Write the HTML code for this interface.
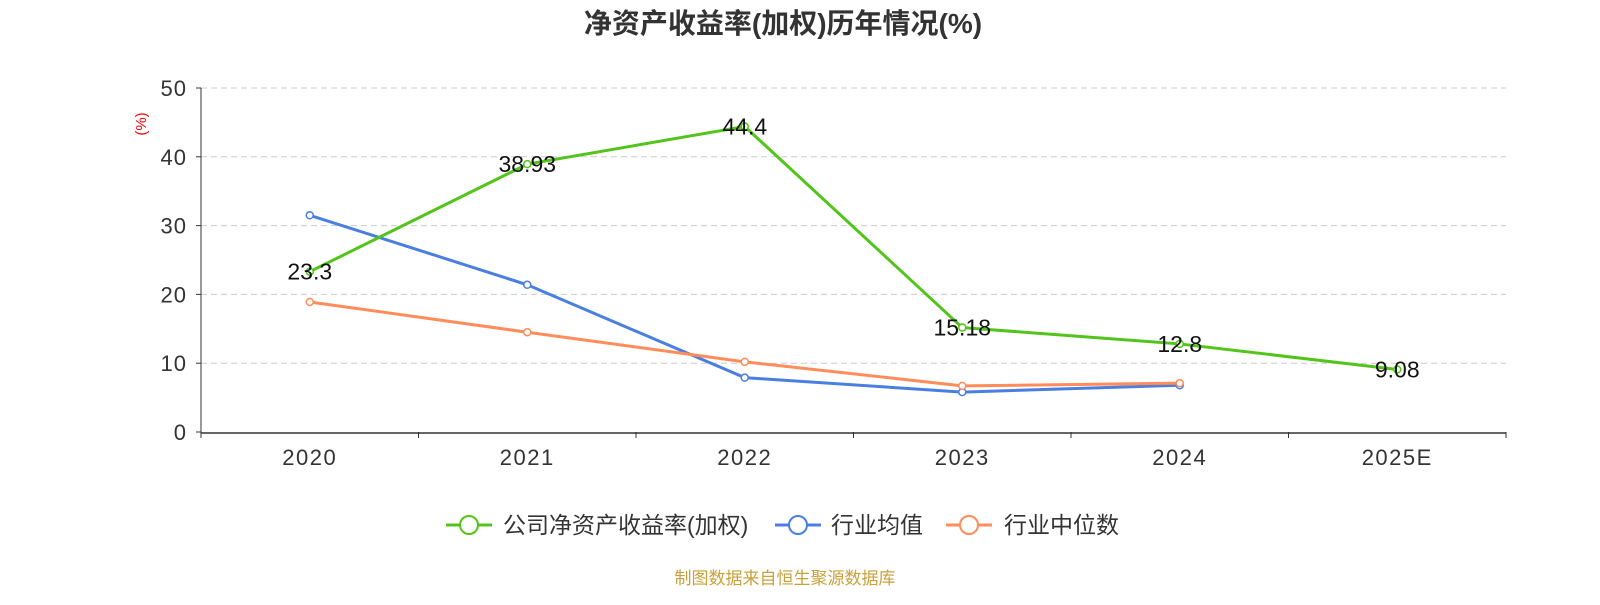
<!DOCTYPE html>
<html><head><meta charset="utf-8"><style>
body{margin:0;background:#fff;font-family:"Liberation Sans","Noto Sans CJK SC",sans-serif;}
</style></head><body>
<svg width="1600" height="600" xmlns="http://www.w3.org/2000/svg" font-family="Liberation Sans, Noto Sans CJK SC, sans-serif">
<text x="783" y="33" text-anchor="middle" font-size="28" font-weight="bold" fill="#333">净资产收益率(加权)历年情况(%)</text>
<text x="146" y="124" font-size="15" fill="#e00" text-anchor="middle" transform="rotate(-90 146 124)">(%)</text>
<g id="grid"></g><g id="axes"></g><g id="series"></g>
<g>
<g><line x1="446" y1="525" x2="492" y2="525" stroke="#52c41a" stroke-width="3"/><circle cx="469" cy="525" r="9" fill="#fff" stroke="#52c41a" stroke-width="2"/><text x="503" y="533" font-size="23" fill="#333">公司净资产收益率(加权)</text></g>
<g><line x1="775" y1="525" x2="821" y2="525" stroke="#4a7fe0" stroke-width="3"/><circle cx="798" cy="525" r="9" fill="#fff" stroke="#4a7fe0" stroke-width="2"/><text x="831" y="533" font-size="23" fill="#333">行业均值</text></g>
<g><line x1="946" y1="525" x2="992" y2="525" stroke="#ff8c5a" stroke-width="3"/><circle cx="969" cy="525" r="9" fill="#fff" stroke="#ff8c5a" stroke-width="2"/><text x="1004" y="533" font-size="23" fill="#333">行业中位数</text></g>
</g>
<text x="785" y="584" text-anchor="middle" font-size="17" fill="#c9a13a">制图数据来自恒生聚源数据库</text>
</svg>
<script>
const categories=["2020","2021","2022","2023","2024","2025E"];
const companyValues=[23.3,38.93,44.4,15.18,12.8,9.08];
const companyLabels=["23.3","38.93","44.4","15.18","12.8","9.08"];
const industryAvg=[31.5,21.4,7.9,5.8,6.8];
const industryMedian=[18.9,14.5,10.2,6.7,7.1];
const yTicks=[0,10,20,30,40,50];
const NS="http://www.w3.org/2000/svg";
const x0=201,x1=1506,y0=432,y1=88;
const band=(x1-x0)/categories.length;
const xs=i=>x0+band*(i+0.5);
const ys=v=>y0-(v/50)*(y0-y1);
function mk(tag,attrs,parent,name,inter){const e=document.createElementNS(NS,tag);for(const k in attrs)e.setAttribute(k,attrs[k]);


parent.appendChild(e);return e;}
const grid=document.getElementById('grid'),axes=document.getElementById('axes'),ser=document.getElementById('series');
yTicks.forEach(t=>{const y=ys(t);
if(t>0)mk('line',{x1:x0,x2:x1,y1:y,y2:y,stroke:'#ccc','stroke-dasharray':'6,4'},grid,'grid-line','false');
mk('line',{x1:x0-5,x2:x0,y1:y,y2:y,stroke:'#333'},axes,'y-tick','false');
const tx=mk('text',{x:x0-14,y:y+8,'text-anchor':'end','font-size':22,'letter-spacing':1,fill:'#333'},axes,'y-tick-label','false');tx.textContent=t;});
mk('line',{x1:x0,x2:x0,y1:y1,y2:y0,stroke:'#333'},axes,'y-axis','false');
mk('line',{x1:x0,x2:x1,y1:y0+1,y2:y0+1,stroke:'#333','stroke-width':1.5},axes,'x-axis','false');
for(let i=0;i<=categories.length;i++){const x=x0+band*i;mk('line',{x1:x,x2:x,y1:y0,y2:y0+6,stroke:'#333'},axes,'x-tick','false');}
categories.forEach((c,i)=>{const t=mk('text',{x:xs(i),y:465,'text-anchor':'middle','font-size':22,'letter-spacing':1.5,fill:'#333'},axes,'x-tick-label','false');t.textContent=c;});
function series(vals,color,name,labels){
const pts=vals.map((v,i)=>xs(i)+','+ys(v)).join(' ');
mk('polyline',{points:pts,fill:'none',stroke:color,'stroke-width':3},ser,name+'-line','false');
vals.forEach((v,i)=>{mk('circle',{cx:xs(i),cy:ys(v),r:3.5,fill:'#fff',stroke:color,'stroke-width':1.5},ser,name+'-point','true');
if(labels){const t=mk('text',{x:xs(i),y:ys(v)+8,'text-anchor':'middle','font-size':23,fill:'#111'},ser,name+'-value-label','false');t.textContent=labels[i];}});}
series(industryAvg,'#4a7fe0','industry-avg');
series(industryMedian,'#ff8c5a','industry-median');
series(companyValues,'#52c41a','company-roe',companyLabels);
</script>
</body></html>
